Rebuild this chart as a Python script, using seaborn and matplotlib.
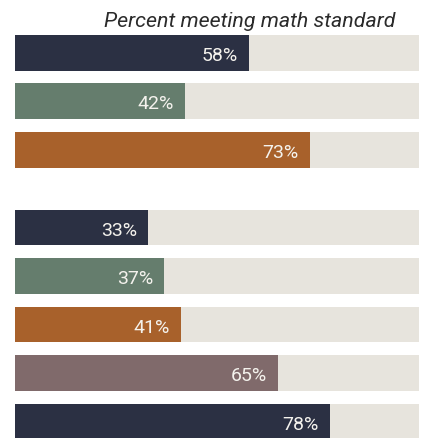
import matplotlib
matplotlib.use("Agg")
import matplotlib.pyplot as plt
import seaborn as sns
import pandas as pd

# Values and their row positions (a gap separates the first group of three)
values = [58, 42, 73, 33, 37, 41, 65, 78]
groups = ["a", "b", "c", "d", "e", "f", "g", "h"]
positions = [0, 1, 2, 3.6, 4.6, 5.6, 6.6, 7.6]
labels = ["58%", "42%", "73%", "33%", "37%", "41%", "65%", "78%"]
colors = ["#2b3043", "#657d6d", "#a8612b", "#2b3043",
          "#657d6d", "#a8612b", "#806a6b", "#2b3043"]
title = "Percent meeting math standard"

track_color = "#e7e4dd"

sns.set_theme(style="white")
plt.rcParams["font.family"] = ["Roboto", "DejaVu Sans"]

df = pd.DataFrame({"pos": positions, "value": values, "group": groups,
                   "full": [100] * len(values)})

fig = plt.figure(figsize=(4.26, 4.39), dpi=100)
ax = fig.add_axes([0, 0, 1, 1])

# full-width tracks
sns.barplot(data=df, x="full", y="pos", orient="h", native_scale=True,
            color=track_color, width=0.74, linewidth=0, saturation=1, ax=ax)
# value bars
sns.barplot(data=df, x="value", y="pos", hue="group", orient="h",
            native_scale=True, palette=dict(zip(groups, colors)),
            dodge=False, width=0.74, linewidth=0, legend=False,
            saturation=1, ax=ax)

for v, p, lab in zip(values, positions, labels):
    ax.annotate(lab, xy=(v, p), xytext=(-11, -2), textcoords="offset pixels",
                ha="right", va="center", color="#f4f2ed", fontsize=14)

ax.set_xlim(-15 / 4.04, 100 + 7 / 4.04)
ax.set_ylim(-1.112 + 439 / 48.5, -1.112)
ax.set_axis_off()

fig.text(396 / 426, 1 - 27 / 439, title, ha="right", va="baseline",
         fontsize=15.4, style="italic", color="#2b2b2b")

fig.savefig("out.png", dpi=100)
